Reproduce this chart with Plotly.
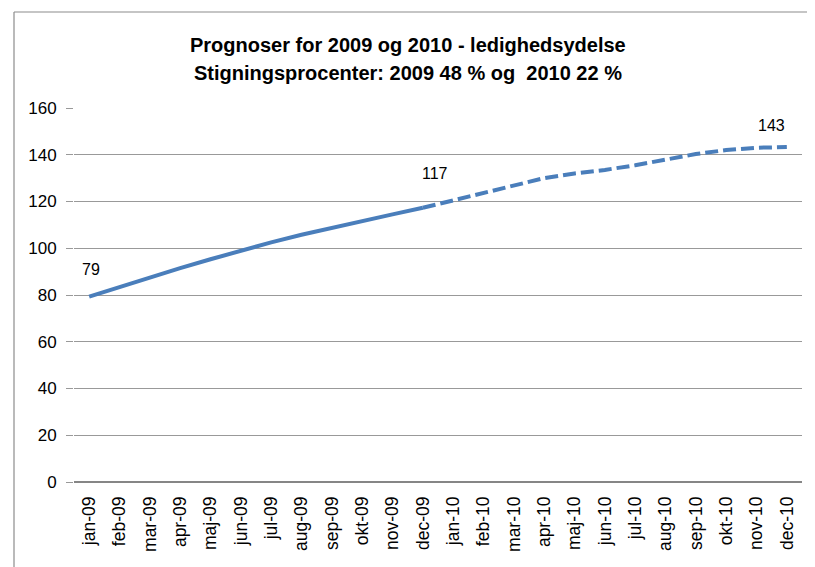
import plotly.graph_objects as go

months = ["jan-09", "feb-09", "mar-09", "apr-09", "maj-09", "jun-09",
          "jul-09", "aug-09", "sep-09", "okt-09", "nov-09", "dec-09",
          "jan-10", "feb-10", "mar-10", "apr-10", "maj-10", "jun-10",
          "jul-10", "aug-10", "sep-10", "okt-10", "nov-10", "dec-10"]

actual_2009 = [79.3, 83.5, 87.5, 91.5, 95.3, 99.0, 102.5, 105.8, 108.8, 111.7, 114.5, 117.3]
forecast_months = months[11:]
forecast_2010 = [117.3, 120.5, 124.0, 127.0, 130.0, 132.0, 133.5, 135.5, 138.0, 140.3, 142.0, 143.0, 143.3]

label_points = [("jan-09", 79.3, "79"), ("dec-09", 117.3, "117"), ("dec-10", 143.3, "143")]
label_shifts = [(2, 27), (12, 34), (-15, 22)]

y_ticks = [0, 20, 40, 60, 80, 100, 120, 140, 160]

title_lines = ["Prognoser for 2009 og 2010 - ledighedsydelse",
               "Stigningsprocenter: 2009 48 % og  2010 22 %"]

BLUE = "#4a7ebb"
FONT = "Liberation Sans, Arial, sans-serif"

# page body adds an 8px offset; positions below are in figure pixels
OFF = 8
W, H = 815, 567
L, T = 74 - OFF, 108 - OFF
R = W - (802 - OFF)
B = H - (482 - OFF)
pw, ph = W - L - R, H - T - B

def px_to_paper_y(py):
    return (H - B - (py - OFF)) / ph

def px_to_paper_x(px):
    return ((px - OFF) - L) / pw

fig = go.Figure()
fig.add_trace(go.Scatter(x=months[:12], y=actual_2009, mode="lines",
                         line=dict(color=BLUE, width=4), showlegend=False,
                         hoverinfo="skip"))
fig.add_trace(go.Scatter(x=forecast_months, y=forecast_2010, mode="lines",
                         line=dict(color=BLUE, width=4, dash="13px,5px"),
                         showlegend=False, hoverinfo="skip"))

for (mx, my, txt), (dx, dy) in zip(label_points, label_shifts):
    fig.add_annotation(x=mx, y=my, text=txt, showarrow=False,
                       xshift=dx, yshift=dy,
                       font=dict(family=FONT, size=16, color="#000000"))

for line, py in zip(title_lines, [45, 73]):
    fig.add_annotation(xref="paper", yref="paper",
                       x=px_to_paper_x(408), y=px_to_paper_y(py),
                       xanchor="center", yanchor="middle", text="<b>" + line + "</b>",
                       showarrow=False,
                       font=dict(family=FONT, size=20, color="#000000"))

# Chart border (left and top), screen coords
fig.add_shape(type="line", xref="paper", yref="paper",
              x0=px_to_paper_x(14), x1=px_to_paper_x(14),
              y0=px_to_paper_y(12), y1=px_to_paper_y(600),
              line=dict(color="#8c8c8c", width=1.2))
fig.add_shape(type="line", xref="paper", yref="paper",
              x0=px_to_paper_x(14), x1=px_to_paper_x(830),
              y0=px_to_paper_y(12), y1=px_to_paper_y(12),
              line=dict(color="#8c8c8c", width=1.2))

fig.update_layout(
    width=W, height=H,
    margin=dict(l=L, r=R, t=T, b=B, autoexpand=False),
    paper_bgcolor="white", plot_bgcolor="white",
    font=dict(family=FONT, color="#000000"),
    xaxis=dict(type="category", categoryorder="array", categoryarray=months,
               range=[-0.5, 23.5], showgrid=False, zeroline=False,
               showline=False, ticks="", tickangle=-90, ticklabelstandoff=10,
               tickfont=dict(family=FONT, size=17.5, color="#000000")),
    yaxis=dict(range=[0, 160], tickvals=y_ticks, showgrid=True,
               gridcolor="#999999", gridwidth=1.3, zeroline=True,
               zerolinecolor="#868686", zerolinewidth=2,
               showline=False, ticks="outside", ticklen=7,
               tickcolor="#999999", tickwidth=1.3, ticklabelstandoff=6,
               tickfont=dict(family=FONT, size=17, color="#000000")),
)

fig.write_html("out.html")
